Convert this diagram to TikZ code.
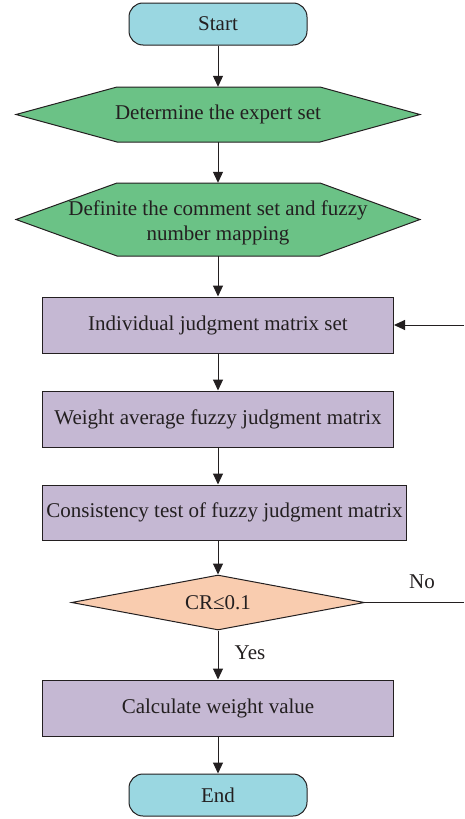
\documentclass[tikz,border=0pt]{standalone}
\usepackage{fontspec}
\setmainfont{Liberation Serif}
\usetikzlibrary{arrows.meta,shapes.geometric,calc}
\definecolor{lineC}{HTML}{231F20}
\definecolor{cyanC}{HTML}{9AD7E1}
\definecolor{greenC}{HTML}{6BC286}
\definecolor{purpC}{HTML}{C5B8D3}
\definecolor{orgC}{HTML}{F9CCAF}
\tikzset{
  every node/.style={font=\fontsize{21}{25}\selectfont, text=lineC},
  term/.style={draw=lineC, line width=1pt, fill=cyanC, rounded corners=14pt, minimum width=178pt, minimum height=42pt, inner sep=0pt},
  procbox/.style={draw=lineC, line width=1pt, fill=purpC, minimum width=351pt, minimum height=56pt, inner sep=0pt},
  hexbox/.style={minimum width=404pt, minimum height=55pt, inner sep=0pt, align=center},
  hexfill/.style={draw=lineC, line width=1pt, fill=greenC},
  decide/.style={diamond, aspect=5.33, draw=lineC, line width=1pt, fill=orgC, minimum width=293pt, minimum height=55pt, inner sep=0pt},
  conn/.style={draw=lineC, line width=1pt, -{Triangle[length=11pt,width=10pt]}},
  plain/.style={draw=lineC, line width=1pt},
}
\begin{document}
\begin{tikzpicture}[x=1pt,y=-1pt]
\useasboundingbox (0,0) rectangle (464,819);
% hexagon backgrounds
\filldraw[hexfill] (16,114.5) -- (117,87) -- (320,87) -- (420,114.5) -- (320,142) -- (117,142) -- cycle;
\filldraw[hexfill] (16,219.5) -- (117,183) -- (320,183) -- (420,219.5) -- (320,256) -- (117,256) -- cycle;

\node[term] (start) at (218,24) {Start};
\node[hexbox] (h1) at (218,114.5) {Determine the expert set};
\node[hexbox, minimum height=73pt] (h2) at (218,219.5) {};
\node[align=center, inner sep=0pt] (h2t) at (218,222.5) {Definite the comment set and fuzzy\\number mapping};
\node[procbox] (b1) at (218,325) {Individual judgment matrix set};
\node[procbox] (b2) at (218,419) {Weight average fuzzy judgment matrix};
\node[procbox, minimum width=364pt, minimum height=55pt] (b3) at (224.5,512.5) {Consistency test of fuzzy judgment matrix};
\node[decide] (dia) at (218,602.5) {CR≤0.1};
\node[procbox] (b4) at (218,708) {Calculate weight value};
\node[term] (end) at (218,795) {End};

\coordinate (fbin) at (464,325);
\coordinate (fbout) at (464,602.5);

\draw[conn] (start.south) -- (h1.north);
\draw[conn] (h1.south) -- (h2.north);
\draw[conn] (h2.south) -- (b1.north);
\draw[conn] (b1.south) -- (b2.north);
\draw[conn] (b2.south) -- (b2.south |- b3.north);
\draw[conn] (b2.south |- b3.south) -- (dia.north);
\draw[conn] (dia.south) -- (b4.north);
\draw[conn] (b4.south) -- (end.north);
\draw[conn] (fbin) -- (b1.east);
\draw[plain] (dia.east) -- (fbout);
\node[anchor=center] (no) at (422,582) {No};
\node[anchor=center] (yes) at (250,653) {Yes};
\end{tikzpicture}
\end{document}
